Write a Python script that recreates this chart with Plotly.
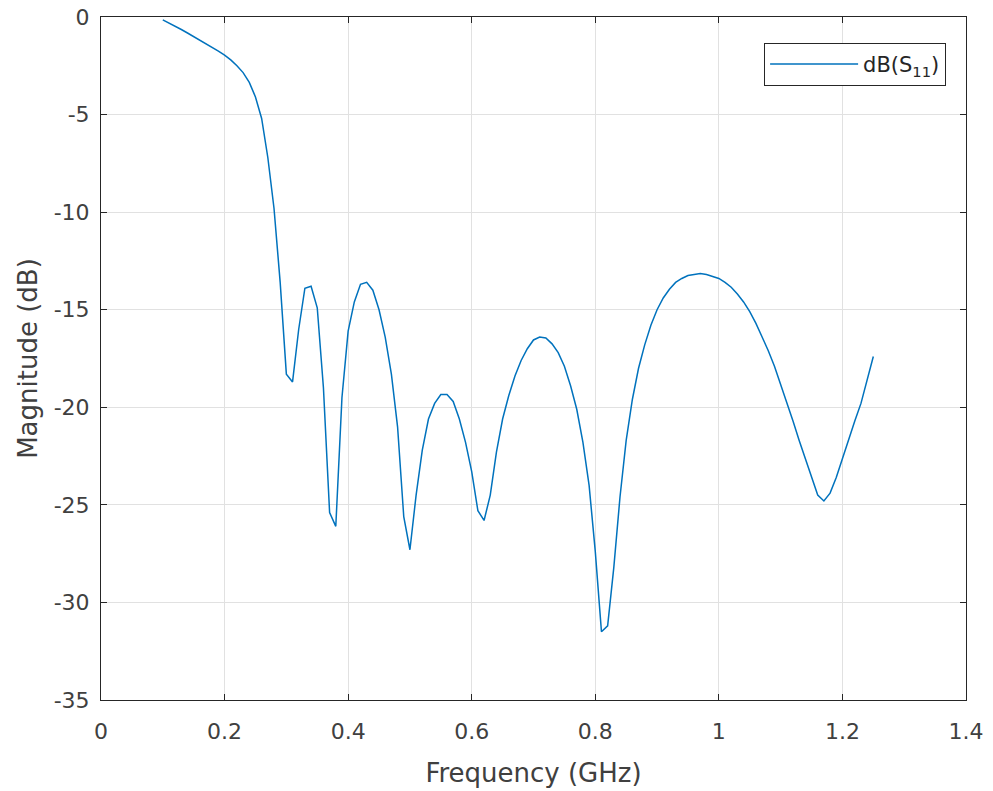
import plotly.graph_objects as go

freq_ghz = [round(0.10 + 0.01 * i, 2) for i in range(116)]
s11_db = [
    -0.15, -0.3, -0.47, -0.64, -0.82, -1.0, -1.18, -1.36, -1.55, -1.75,
    -1.95, -2.2, -2.5, -2.85, -3.35, -4.1, -5.2, -7.2, -9.8, -13.6,
    -18.3, -18.7, -16.0, -13.9, -13.8, -14.9, -19.0, -25.4, -26.1, -19.5,
    -16.1, -14.6, -13.7, -13.6, -14.0, -15.0, -16.4, -18.3, -21.0, -25.6,
    -27.3, -24.5, -22.2, -20.6, -19.8, -19.35, -19.35, -19.7, -20.6, -21.8,
    -23.3, -25.3, -25.8, -24.5, -22.3, -20.6, -19.4, -18.4, -17.6, -17.0,
    -16.55, -16.4, -16.45, -16.75, -17.2, -17.9, -18.9, -20.1, -21.8, -24.0,
    -27.4, -31.5, -31.2, -28.2, -24.6, -21.7, -19.6, -18.0, -16.8, -15.8,
    -15.0, -14.4, -13.95, -13.6, -13.4, -13.25, -13.2, -13.15, -13.2, -13.3,
    -13.4, -13.6, -13.85, -14.2, -14.6, -15.1, -15.7, -16.4, -17.1, -17.9,
    -18.8, -19.7, -20.7, -21.7, -22.6, -23.6, -24.5, -24.8, -24.4, -23.6,
    -22.6, -21.6, -20.7, -19.8, -18.6, -17.4,
]
x_ticks = [0, 0.2, 0.4, 0.6, 0.8, 1.0, 1.2, 1.4]
x_tick_labels = ["0", "0.2", "0.4", "0.6", "0.8", "1", "1.2", "1.4"]
y_ticks = [0, -5, -10, -15, -20, -25, -30, -35]
y_tick_labels = ["0", "-5", "-10", "-15", "-20", "-25", "-30", "-35"]

FONT = "DejaVu Sans, Liberation Sans, Arial"

fig = go.Figure()
fig.add_trace(go.Scatter(
    x=freq_ghz, y=s11_db, mode="lines",
    name="dB(S<sub>11</sub>)",
    line=dict(color="#0072BD", width=1.5),
))

axis_common = dict(
    showline=True, linecolor="#262626", linewidth=1, mirror="ticks",
    ticks="inside", ticklen=6, tickcolor="#262626",
    showgrid=True, gridcolor="#e1e1e1", gridwidth=1,
    zeroline=False, automargin=False,
    tickfont=dict(size=22, color="#404040", family=FONT),
)

fig.update_layout(
    width=993, height=791,
    margin=dict(l=101, r=27, t=17, b=91),
    paper_bgcolor="white", plot_bgcolor="white",
    font=dict(family=FONT, color="#404040"),
    xaxis=dict(range=[0, 1.4], tickvals=x_ticks, ticktext=x_tick_labels,
               ticklabelstandoff=12,
               title=dict(text="Frequency (GHz)", font=dict(size=26), standoff=20),
               **axis_common),
    yaxis=dict(range=[-35, 0], tickvals=y_ticks, ticktext=y_tick_labels,
               ticklabelstandoff=6,
               title=dict(text="Magnitude (dB)", font=dict(size=26), standoff=8),
               **axis_common),
    showlegend=True,
    legend=dict(x=0.977, y=0.962, xanchor="right", yanchor="top",
                bgcolor="white", bordercolor="#262626", borderwidth=1,
                itemwidth=88,
                font=dict(size=21, color="#262626", family=FONT)),
)

fig.write_html("out.html", config={"displayModeBar": False},
               post_script="document.body.style.margin='0';")
